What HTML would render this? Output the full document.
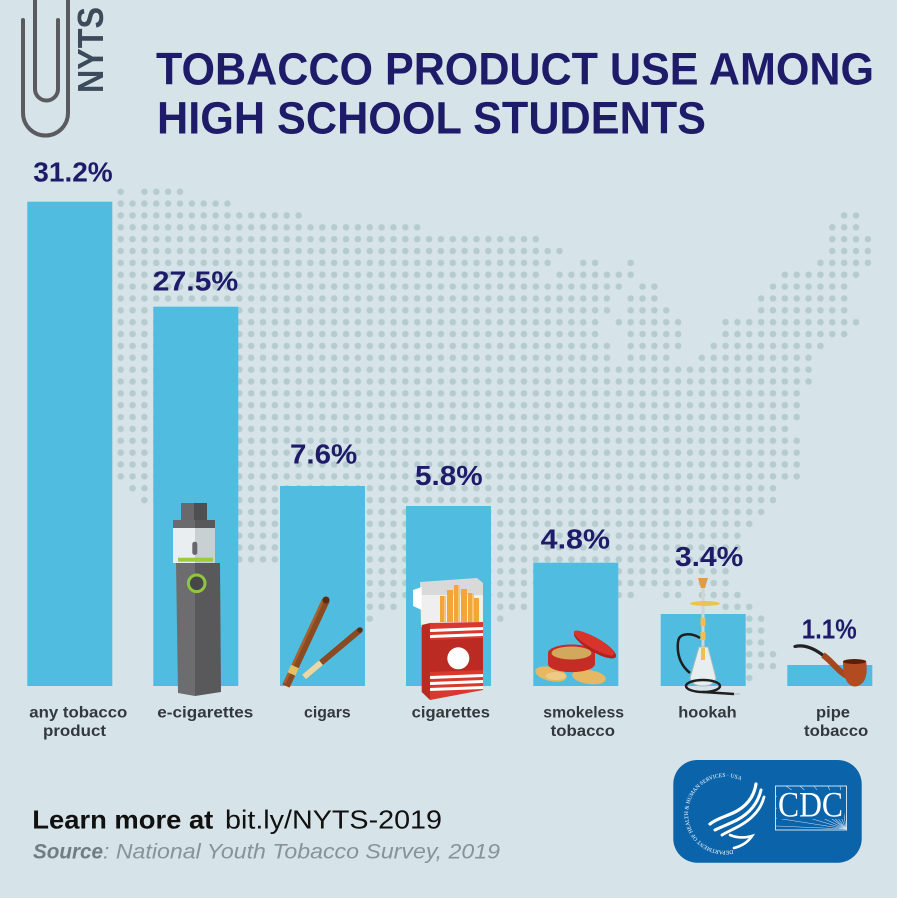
<!DOCTYPE html>
<html><head><meta charset="utf-8"><style>
html,body{margin:0;padding:0;background:#d6e3e8;}
svg{display:block;font-family:"Liberation Sans",Arial,sans-serif;}
</style></head><body>
<svg width="897" height="898" viewBox="0 0 897 898" xmlns="http://www.w3.org/2000/svg">
<rect width="897" height="898" fill="#d6e3e8"/>

<!-- dot map -->
<g transform="translate(114.77,185.77) scale(11.86)">
<defs><pattern id="dp" patternUnits="userSpaceOnUse" x="0" y="0" width="1" height="1"><circle cx="0.5" cy="0.5" r="0.275" fill="#b6cbd0"/></pattern></defs>
<g fill="url(#dp)">
<rect x="0" y="0" width="1" height="1"/><rect x="2" y="0" width="4" height="1"/>
<rect x="0" y="1" width="10" height="1"/>
<rect x="0" y="2" width="16" height="1"/><rect x="61" y="2" width="2" height="1"/>
<rect x="0" y="3" width="26" height="1"/><rect x="60" y="3" width="3" height="1"/>
<rect x="0" y="4" width="36" height="1"/><rect x="60" y="4" width="4" height="1"/>
<rect x="0" y="5" width="38" height="1"/><rect x="60" y="5" width="4" height="1"/>
<rect x="0" y="6" width="37" height="1"/><rect x="39" y="6" width="2" height="1"/><rect x="43" y="6" width="1" height="1"/><rect x="59" y="6" width="5" height="1"/>
<rect x="0" y="7" width="36" height="1"/><rect x="37" y="7" width="7" height="1"/><rect x="56" y="7" width="7" height="1"/>
<rect x="0" y="8" width="43" height="1"/><rect x="44" y="8" width="2" height="1"/><rect x="55" y="8" width="7" height="1"/>
<rect x="0" y="9" width="42" height="1"/><rect x="43" y="9" width="3" height="1"/><rect x="54" y="9" width="8" height="1"/>
<rect x="0" y="10" width="42" height="1"/><rect x="43" y="10" width="4" height="1"/><rect x="54" y="10" width="8" height="1"/>
<rect x="0" y="11" width="41" height="1"/><rect x="42" y="11" width="6" height="1"/><rect x="51" y="11" width="12" height="1"/>
<rect x="0" y="12" width="41" height="1"/><rect x="43" y="12" width="5" height="1"/><rect x="51" y="12" width="11" height="1"/>
<rect x="0" y="13" width="42" height="1"/><rect x="43" y="13" width="5" height="1"/><rect x="50" y="13" width="10" height="1"/>
<rect x="0" y="14" width="42" height="1"/><rect x="43" y="14" width="4" height="1"/><rect x="49" y="14" width="10" height="1"/>
<rect x="0" y="15" width="59" height="2"/>
<rect x="0" y="17" width="58" height="3"/>
<rect x="0" y="20" width="57" height="1"/>
<rect x="0" y="21" width="58" height="4"/>
<rect x="1" y="25" width="55" height="1"/>
<rect x="2" y="26" width="54" height="1"/>
<rect x="10" y="27" width="45" height="1"/>
<rect x="10" y="28" width="44" height="1"/>
<rect x="10" y="29" width="43" height="2"/>
<rect x="10" y="31" width="42" height="1"/>
<rect x="21" y="32" width="31" height="2"/>
<rect x="21" y="34" width="14" height="1"/><rect x="42" y="34" width="2" height="1"/><rect x="46" y="34" width="2" height="1"/><rect x="49" y="34" width="4" height="1"/>
<rect x="21" y="35" width="3" height="1"/><rect x="32" y="35" width="3" height="1"/><rect x="51" y="35" width="3" height="1"/>
<rect x="21" y="36" width="1" height="1"/><rect x="32" y="36" width="1" height="1"/><rect x="53" y="36" width="2" height="3"/>
<rect x="53" y="39" width="3" height="2"/>
<rect x="53" y="41" width="1" height="1"/>
</g>
</g>

<!-- paperclip -->
<g fill="none" stroke="#5b5a5f" stroke-width="4" stroke-linecap="round">
<path d="M23,20 V113 A22.5,22.5 0 0 0 68,113 V-5"/>
<path d="M35,-5 V89 A11.5,11.5 0 0 0 58,89 V20"/>
</g>
<text transform="translate(103,93) rotate(-90)" font-size="36" font-weight="bold" fill="#3b4b5b" textLength="86" lengthAdjust="spacingAndGlyphs">NYTS</text>

<!-- title -->
<text x="156" y="84.3" font-size="45" font-weight="bold" fill="#1e1b69" textLength="718" lengthAdjust="spacingAndGlyphs">TOBACCO PRODUCT USE AMONG</text>
<text x="157" y="133.3" font-size="45" font-weight="bold" fill="#1e1b69" textLength="549" lengthAdjust="spacingAndGlyphs">HIGH SCHOOL STUDENTS</text>

<!-- bars -->
<g fill="#50bde0">
<rect x="27.3" y="201.7" width="85" height="484.3"/>
<rect x="153.3" y="306.7" width="85" height="379.3"/>
<rect x="280" y="486" width="85" height="200"/>
<rect x="406" y="506" width="85" height="180"/>
<rect x="533.3" y="562.7" width="85" height="123.3"/>
<rect x="660.7" y="614" width="85" height="72"/>
<rect x="787.3" y="665" width="85" height="21"/>
</g>

<!-- percentages -->
<g font-size="28" font-weight="bold" fill="#1e1b69">
<text x="33.3" y="181.7" textLength="79.4" lengthAdjust="spacingAndGlyphs">31.2%</text>
<text x="152.7" y="290.7" textLength="85.6" lengthAdjust="spacingAndGlyphs">27.5%</text>
<text x="290" y="463.3" textLength="67.3" lengthAdjust="spacingAndGlyphs">7.6%</text>
<text x="415" y="485" textLength="67.7" lengthAdjust="spacingAndGlyphs">5.8%</text>
<text x="540.7" y="548.3" textLength="69.3" lengthAdjust="spacingAndGlyphs">4.8%</text>
<text x="675" y="566" textLength="68.3" lengthAdjust="spacingAndGlyphs">3.4%</text>
<text x="801.7" y="638.3" textLength="55" lengthAdjust="spacingAndGlyphs">1.1%</text>
</g>

<!-- category labels -->
<g font-size="16" font-weight="bold" fill="#33383d">
<text x="29.3" y="717.5" textLength="98" lengthAdjust="spacingAndGlyphs">any tobacco</text>
<text x="43" y="736" textLength="63" lengthAdjust="spacingAndGlyphs">product</text>
<text x="157.3" y="717.5" textLength="96" lengthAdjust="spacingAndGlyphs">e-cigarettes</text>
<text x="304" y="717.5" textLength="46.7" lengthAdjust="spacingAndGlyphs">cigars</text>
<text x="411.7" y="717.5" textLength="78.3" lengthAdjust="spacingAndGlyphs">cigarettes</text>
<text x="543.3" y="717.5" textLength="80.7" lengthAdjust="spacingAndGlyphs">smokeless</text>
<text x="550.7" y="736" textLength="64.3" lengthAdjust="spacingAndGlyphs">tobacco</text>
<text x="678.3" y="717.5" textLength="58.3" lengthAdjust="spacingAndGlyphs">hookah</text>
<text x="816" y="717.5" textLength="34" lengthAdjust="spacingAndGlyphs">pipe</text>
<text x="804" y="736" textLength="64.3" lengthAdjust="spacingAndGlyphs">tobacco</text>
</g>

<!-- e-cigarette -->
<g>
<rect x="181" y="503" width="13" height="17" fill="#69696c"/>
<rect x="194" y="503" width="13" height="17" fill="#4f4f52"/>
<rect x="173" y="520" width="22" height="8" fill="#6b6b6e"/>
<rect x="195" y="520" width="20" height="8" fill="#58585a"/>
<rect x="173" y="528" width="22" height="35" fill="#e9eff1"/>
<rect x="195" y="528" width="20" height="35" fill="#c8d0d3"/>
<rect x="192.3" y="541.7" width="5" height="13.3" rx="2.5" fill="#67676a"/>
<rect x="178" y="557.7" width="35" height="4" fill="#9ccc3c"/>
<polygon points="176,563 195,563 195,696 178,693" fill="#6d6d70"/>
<polygon points="195,563 220,563 221,692 195,696" fill="#59595c"/>
<circle cx="196.7" cy="583.3" r="8.3" fill="#47474a" stroke="#8fc640" stroke-width="3"/>
</g>

<!-- cigars -->
<g stroke-linecap="butt">
<line x1="286" y1="686" x2="326" y2="600" stroke="#8a4a22" stroke-width="8"/>
<line x1="284.5" y1="683" x2="323.5" y2="599" stroke="#a7612f" stroke-width="2.5"/>
<line x1="291.5" y1="674" x2="295" y2="666.5" stroke="#e6c163" stroke-width="8.5"/>
<line x1="304" y1="677" x2="360" y2="630" stroke="#8a4a22" stroke-width="6"/>
<line x1="304" y1="677" x2="321" y2="662.7" stroke="#e8d8a8" stroke-width="6"/>
<circle cx="326" cy="600" r="3.5" fill="#5a2d12"/>
<circle cx="360" cy="630" r="2.8" fill="#5a2d12"/>
</g>

<!-- cigarette pack -->
<g>
<polygon points="420,582 477,578 483,583 483,625 421,627" fill="#d9d9d9"/>
<rect x="421" y="595" width="62" height="32" fill="#efefef"/>
<g fill="#f2a63a">
<rect x="440" y="596" width="6" height="26"/>
<rect x="447" y="590" width="6" height="32"/>
<rect x="454" y="585" width="6" height="37"/>
<rect x="461" y="589" width="6" height="33"/>
<rect x="468" y="593" width="6" height="29"/>
<rect x="474" y="598" width="5" height="24"/>
</g>
<g fill="#f7c56f"><rect x="444" y="596" width="2" height="26"/><rect x="458" y="585" width="2" height="37"/><rect x="472" y="593" width="2" height="29"/></g>
<polygon points="413,590 421.7,587 421.7,610 413,606" fill="#ffffff"/>
<polygon points="421.7,625 430,623 430,700 421.7,692" fill="#b82a22"/>
<polygon points="430,623 483,622 483,690 430,700" fill="#d9382d"/>
<polygon points="430,640 483,638 483,670 430,672" fill="#bb2b23"/>
<g fill="#ffffff">
<polygon points="430,629 483,627 483,630 430,632"/>
<polygon points="430,635 483,633 483,636 430,638"/>
<polygon points="430,676 483,674 483,677 430,679"/>
<polygon points="430,682 483,680 483,683 430,685"/>
<polygon points="430,688 483,686 483,689 430,691"/>
</g>
<circle cx="458.3" cy="658.3" r="11" fill="#ffffff"/>
</g>

<!-- smokeless tobacco -->
<g>
<ellipse cx="551" cy="674" rx="16" ry="7" transform="rotate(12 551 674)" fill="#e7b863"/>
<ellipse cx="589" cy="677" rx="17" ry="7" transform="rotate(8 589 677)" fill="#e7b863"/>
<path d="M548,653 L548,664 A23,8 0 0 0 595,664 L595,653 Z" fill="#c42c25"/>
<ellipse cx="571.5" cy="653" rx="23.5" ry="8.5" fill="#c42c25"/>
<ellipse cx="571.5" cy="653" rx="20" ry="6.5" fill="#d2a85c"/>
<ellipse cx="595" cy="645" rx="24" ry="7" transform="rotate(30 595 645)" fill="#b0221c"/>
<ellipse cx="594" cy="643" rx="23" ry="5.5" transform="rotate(30 594 643)" fill="#d8342b"/>
<ellipse cx="556" cy="676" rx="10" ry="4" fill="#eccb86"/>
</g>

<!-- hookah -->
<g>
<polygon points="698,578 708,578 705,588 701,588" fill="#e09b48"/>
<rect x="701.5" y="588" width="3" height="60" fill="#cfd4d4"/>
<ellipse cx="705" cy="603.5" rx="15" ry="2.5" fill="#efc24f"/>
<rect x="700.5" y="618" width="5" height="8" fill="#f0c04a"/>
<rect x="700.5" y="632" width="5" height="8" fill="#f0c04a"/>
<path d="M699,647 L708,647 L716,678 Q714,686 703,686 Q692,686 690,678 Z" fill="#e6eef0" stroke="#aab8bd" stroke-width="1"/>
<rect x="701" y="648" width="4" height="12" fill="#f0c04a"/>
<path d="M700,638 C692,633 679,632 678,642 C677,652 679,664 690,673" fill="none" stroke="#1f1f1f" stroke-width="2.5"/>
<ellipse cx="703" cy="686" rx="17" ry="6" fill="none" stroke="#1f1f1f" stroke-width="2.5"/>
<line x1="703" y1="692" x2="734" y2="694" stroke="#1f1f1f" stroke-width="2.5"/>
<line x1="734" y1="694" x2="740" y2="694" stroke="#c8c8c8" stroke-width="2"/>
</g>

<!-- pipe -->
<g>
<path d="M795,646.5 C805,644 815,649 824,656" fill="none" stroke="#222" stroke-width="3.2" stroke-linecap="round"/>
<path d="M823,655 C833,662 838,672 849,677" fill="none" stroke="#a5461d" stroke-width="6"/>
<path d="M843,662 L866,660.5 C868,674 866,684 856,686.5 C847,687 843,677 843,662 Z" fill="#b24b1f"/>
<ellipse cx="854.5" cy="661.5" rx="11.5" ry="2.5" fill="#5a1e0a"/>
</g>

<!-- bottom text -->
<text x="32.3" y="828.3" font-size="26" font-weight="bold" fill="#111" textLength="181" lengthAdjust="spacingAndGlyphs">Learn more at</text>
<text x="225" y="828.3" font-size="26" fill="#111" textLength="217" lengthAdjust="spacingAndGlyphs">bit.ly/NYTS-2019</text>
<text x="33" y="858.3" font-size="21" font-weight="bold" font-style="italic" fill="#6f7d84" textLength="70" lengthAdjust="spacingAndGlyphs">Source</text>
<text x="103" y="858.3" font-size="21" font-style="italic" fill="#86949a" textLength="397" lengthAdjust="spacingAndGlyphs">: National Youth Tobacco Survey, 2019</text>

<!-- CDC logo -->
<g>
<rect x="673.3" y="760" width="188.4" height="102.7" rx="24" fill="#0b63aa"/>
<path id="arc" d="M733,850 A37,37 0 1 1 758,797" fill="none"/>
<text font-size="5.6" fill="#ffffff" font-family="Liberation Serif, serif"><textPath href="#arc">DEPARTMENT OF HEALTH &amp; HUMAN SERVICES · USA</textPath></text>
<g fill="none" stroke="#ffffff" stroke-linecap="round">
<path d="M756,784 C754,797 746,807 733,813 C724,817 716,819 710,824" stroke-width="3.2"/>
<path d="M761,790 C758,803 750,813 737,820 C729,824 721,827 715,830" stroke-width="3"/>
<path d="M764,797 C761,809 753,818 741,825 C734,829 727,832 722,835" stroke-width="2.8"/>
<path d="M730,835 C737,838 745,838 752,836 C748,842 742,846 734,848" stroke-width="2.6"/>
</g>
<rect x="775.5" y="786" width="71" height="44" fill="none" stroke="#ffffff" stroke-width="0.8"/>
<g stroke="#ffffff" stroke-width="0.6" opacity="0.8">
<line x1="846" y1="829" x2="776" y2="808"/>
<line x1="846" y1="829" x2="776" y2="818"/>
<line x1="846" y1="829" x2="776" y2="826"/>
<line x1="846" y1="829" x2="786" y2="786"/>
<line x1="846" y1="829" x2="800" y2="786"/>
<line x1="846" y1="829" x2="814" y2="786"/>
<line x1="846" y1="829" x2="828" y2="786"/>
<line x1="846" y1="829" x2="840" y2="786"/>
<line x1="846" y1="829" x2="776" y2="796"/>
</g>
<rect x="777" y="790" width="67" height="29" fill="#0b63aa"/>
<text x="778" y="816.7" font-size="36" font-family="Liberation Serif, serif" fill="#ffffff" textLength="65" lengthAdjust="spacingAndGlyphs">CDC</text>
</g>
</svg>
</body></html>
